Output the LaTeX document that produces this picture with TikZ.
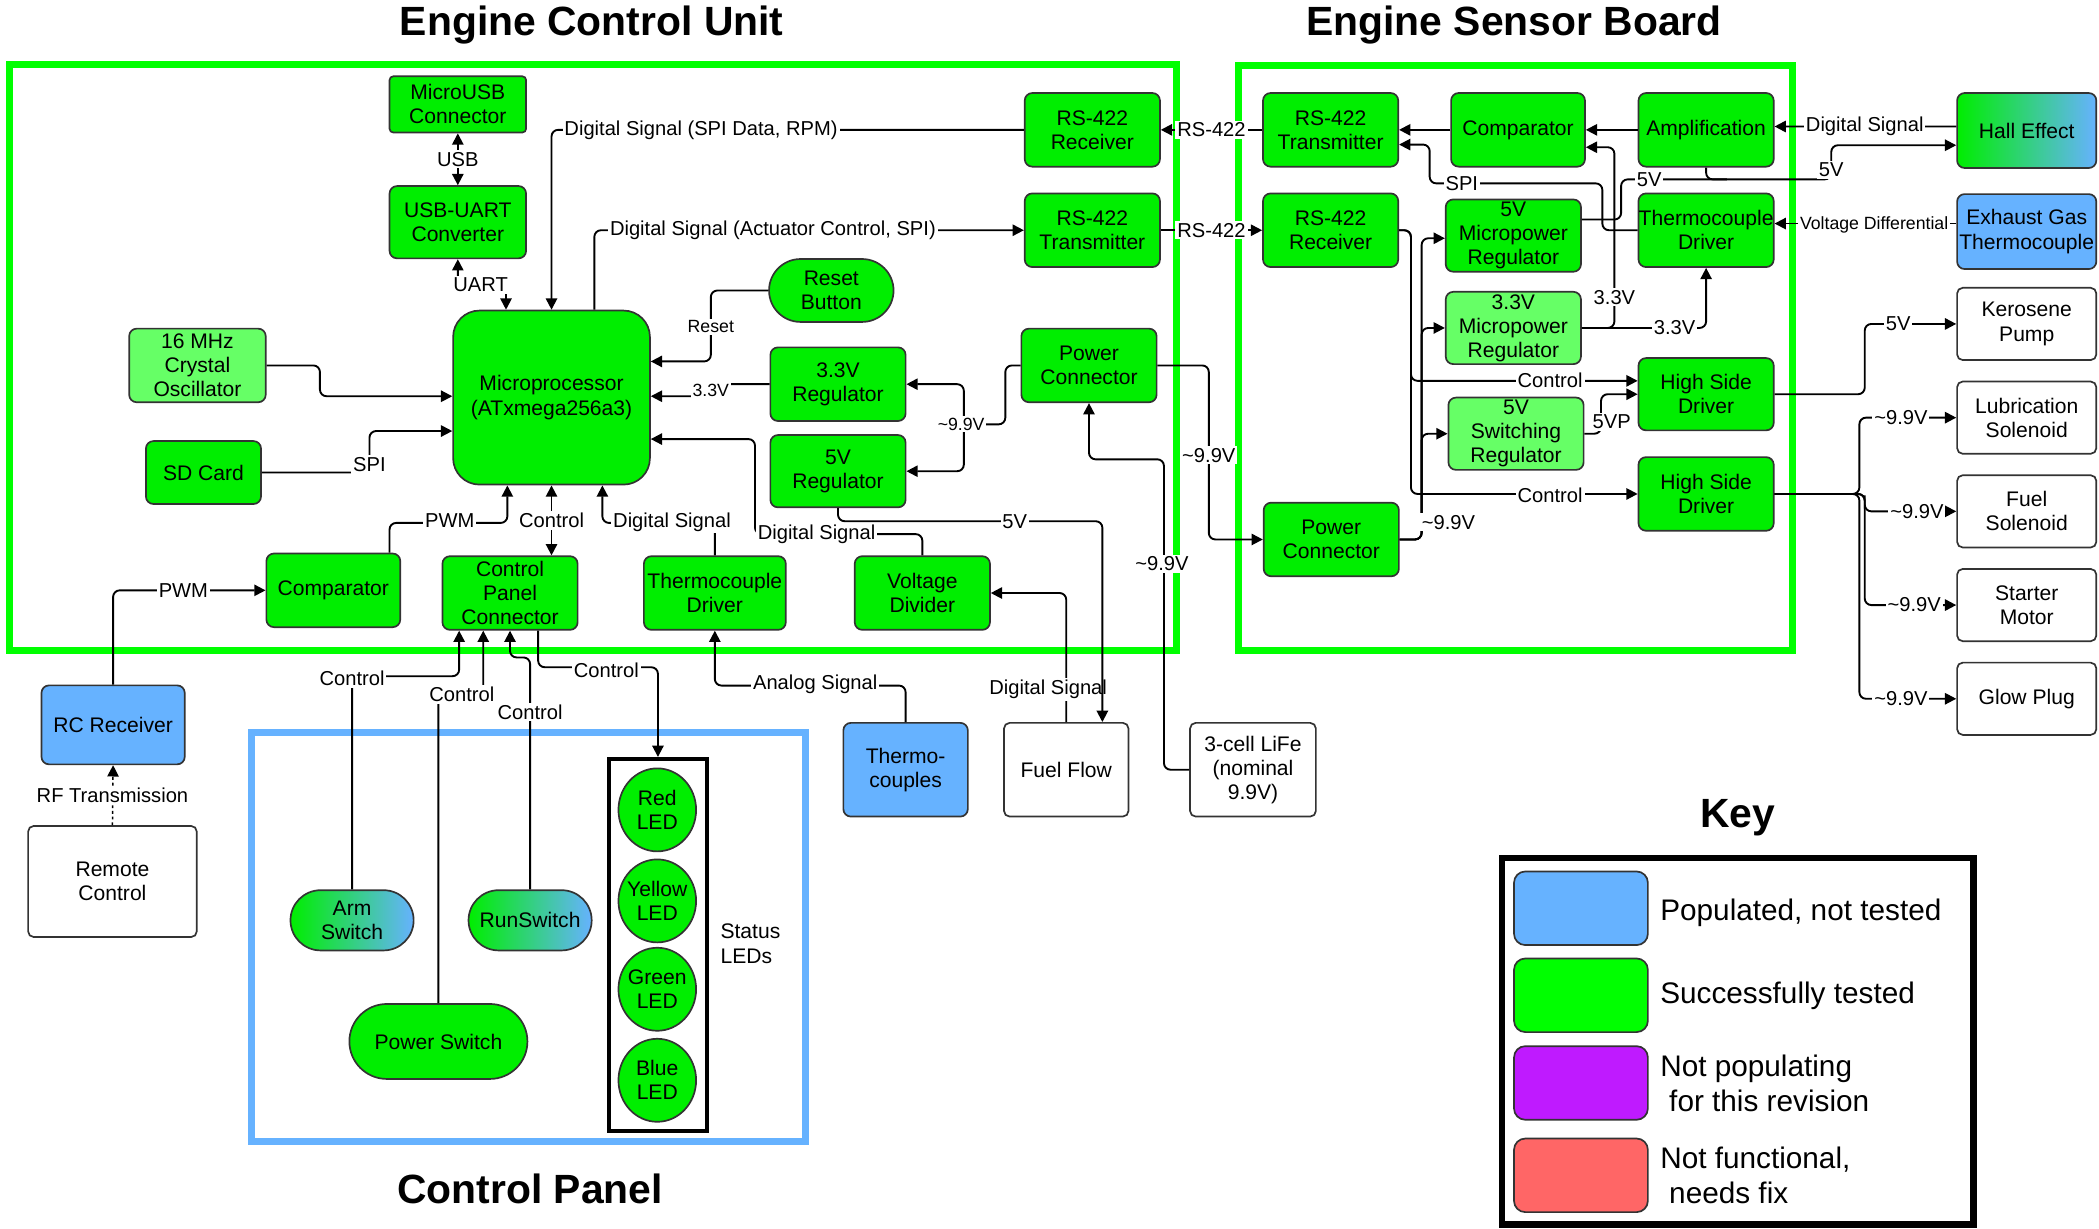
\documentclass[tikz,border=0pt]{standalone}
\usepackage{fontspec}
\setmainfont{Liberation Sans}
\usetikzlibrary{arrows.meta,calc,shapes.misc,shapes.geometric}
\definecolor{gfill}{HTML}{00EE00}
\definecolor{lgfill}{HTML}{66FF66}
\definecolor{bfill}{HTML}{66B2FF}
\definecolor{pfill}{HTML}{BF1AFF}
\definecolor{rfill}{HTML}{FF6666}
\definecolor{frameg}{HTML}{00FF00}
\definecolor{frameb}{HTML}{66B2FF}
\definecolor{bd}{HTML}{333333}
\newcommand{\nodefnt}{\fontsize{11.2}{12.8}\selectfont}
\newcommand{\lblfnt}{\fontsize{10.7}{12}\selectfont}
\newcommand{\smlfnt}{\fontsize{9.4}{11}\selectfont}
\newcommand{\ttlfnt}{\fontsize{21.7}{26}\selectfont\bfseries}
\newcommand{\keyfnt}{\fontsize{15.8}{18.5}\selectfont}
\begin{document}
\begin{tikzpicture}[x=0.025cm,y=-0.025cm,
  box/.style={draw=bd, line width=0.9pt, rounded corners=4pt, fill=gfill, align=center, font=\nodefnt, inner sep=0pt},
  lbox/.style={box, fill=lgfill},
  bbox/.style={box, fill=bfill},
  wbox/.style={box, fill=white, rounded corners=3pt},
  gbox/.style={box, left color=gfill, right color=bfill},
  pill/.style={shape=rounded rectangle, sharp corners},
  sz/.style 2 args={minimum width=#1*0.025cm, minimum height=#2*0.025cm},
  ln/.style={draw=black, line width=1pt, rounded corners=3.5pt},
  arr/.style={ln, -{Triangle[length=6pt,width=6pt]}},
  barr/.style={ln, {Triangle[length=6pt,width=6pt]}-{Triangle[length=6pt,width=6pt]}},
  lbl/.style={fill=white, inner sep=1pt, font=\lblfnt},
  slbl/.style={lbl, font=\smlfnt},
  frame/.style={draw=frameg, line width=3.6pt},
  ttl/.style={font=\ttlfnt, inner sep=0pt}
]
\fill[white] (0,0) rectangle (1568,918);
\useasboundingbox (0,0) rectangle (1568,918);

% frames
\draw[frame] (7,48) rectangle (879,486);
\draw[frame] (925,49) rectangle (1339,486);
\draw[draw=frameb, line width=3.6pt] (188,547) rectangle (602,853);

% titles
\node[ttl] (tecu) at (442,19) {Engine Control Unit};
\node[ttl] (tesb) at (1131,19) {Engine Sensor Board};
\node[ttl] (tcp) at (396,888) {Control Panel};
\node[ttl] (tkey) at (1298,611) {Key};

% ECU nodes
\node[box, sz={102}{42}, rounded corners=2pt] (usb) at (342,78) {MicroUSB\\Connector};
\node[box, sz={102}{54}] (uart) at (342,166) {USB-UART\\Converter};
\node[box, sz={147}{130}, rounded corners=14pt] (mcu) at (412,297) {Microprocessor\\(ATxmega256a3)};
\node[lbox, sz={102}{55}] (xtal) at (147.5,273) {16 MHz\\Crystal\\Oscillator};
\node[box, sz={86}{47}] (sd) at (152,353) {SD Card};
\node[box, sz={101}{55}] (erx) at (816,97) {RS-422\\Receiver};
\node[box, sz={101}{55}] (etx) at (816,172) {RS-422\\Transmitter};
\node[box, pill, sz={93}{47}] (rst) at (621,217) {Reset\\Button};
\node[box, sz={101}{55}] (r33) at (626,287) {3.3V\\Regulator};
\node[box, sz={101}{54}] (r5) at (626,352) {5V\\Regulator};
\node[box, sz={101}{55}] (epc) at (813.5,273) {Power\\Connector};
\node[box, sz={100}{55}] (ecmp) at (249,441) {Comparator};
\node[box, sz={101}{55}] (cpc) at (381,443) {Control\\Panel\\Connector};
\node[box, sz={106}{55}] (etd) at (534,443) {Thermocouple\\Driver};
\node[box, sz={101}{55}] (vd) at (689,443) {Voltage\\Divider};

% ESB nodes
\node[box, sz={101}{55}] (stx) at (994,97) {RS-422\\Transmitter};
\node[box, sz={101}{55}] (srx) at (994,172) {RS-422\\Receiver};
\node[box, sz={100}{55}] (scmp) at (1134,97) {Comparator};
\node[box, sz={101}{55}] (amp) at (1274.5,97) {Amplification};
\node[box, sz={101}{54}] (r5m) at (1130.5,176) {5V\\Micropower\\Regulator};
\node[box, sz={101}{55}] (std) at (1274.5,172) {Thermocouple\\Driver};
\node[lbox, sz={101}{54}] (r33m) at (1130.5,245) {3.3V\\Micropower\\Regulator};
\node[box, sz={101}{54}] (hsd1) at (1274.5,294.5) {High Side\\Driver};
\node[lbox, sz={101}{54}] (r5s) at (1132.5,324) {5V\\Switching\\Regulator};
\node[box, sz={101}{55}] (hsd2) at (1274.5,369) {High Side\\Driver};
\node[box, sz={101}{55}] (spc) at (994.5,403) {Power\\Connector};

% external right
\node[gbox, sz={104}{56}] (hall) at (1514,97.5) {Hall Effect};
\node[bbox, sz={104}{56}] (egt) at (1514,173) {Exhaust Gas\\Thermocouple};
\node[wbox, sz={104}{54}] (kp) at (1514,242) {Kerosene\\Pump};
\node[wbox, sz={104}{54}] (lub) at (1514,312) {Lubrication\\Solenoid};
\node[wbox, sz={104}{54}] (fs) at (1514,382) {Fuel\\Solenoid};
\node[wbox, sz={104}{54}] (sm) at (1514,452) {Starter\\Motor};
\node[wbox, sz={104}{54}] (gp) at (1514,522) {Glow Plug};

% bottom
\node[bbox, sz={107}{59}] (rcr) at (84.5,541.5) {RC Receiver};
\node[wbox, sz={126}{83}] (rmt) at (84,658.5) {Remote\\Control};
\node[bbox, sz={93}{70}] (thc) at (676.5,575) {Thermo-\\couples};
\node[wbox, sz={93}{70}] (ff) at (796.5,575) {Fuel Flow};
\node[wbox, sz={94}{70}] (life) at (936,575) {3-cell LiFe\\(nominal\\9.9V)};

% control panel
\node[gbox, pill, sz={92}{45}] (arm) at (263,687.5) {Arm\\Switch};
\node[gbox, pill, sz={92}{45}] (run) at (396,687.5) {RunSwitch};
\node[box, pill, sz={133}{56}] (pwr) at (327.5,778) {Power Switch};
\node[draw=black, line width=2.2pt, sz={73}{278}, inner sep=0pt] (ledbox) at (491.5,706) {};
\node[box, ellipse, sz={58}{62}] (led1) at (491,605) {};
\node[box, ellipse, sz={58}{62}] (led2) at (491,673) {};
\node[box, ellipse, sz={58}{62}] (led3) at (491,739) {};
\node[box, ellipse, sz={58}{62}] (led4) at (491,807) {};
\node[font=\nodefnt, align=center, inner sep=0pt] (led1t) at (led1) {Red\\LED};
\node[font=\nodefnt, align=center, inner sep=0pt] (led2t) at (led2) {Yellow\\LED};
\node[font=\nodefnt, align=center, inner sep=0pt] (led3t) at (led3) {Green\\LED};
\node[font=\nodefnt, align=center, inner sep=0pt] (led4t) at (led4) {Blue\\LED};
\node[font=\nodefnt, align=left, anchor=west, inner sep=0pt] (stat) at (538,705) {Status\\LEDs};

% key
\node[draw=black, line width=3.6pt, sz={352}{274}, inner sep=0pt] (keybox) at (1298,778) {};
\node[box, fill=bfill, rounded corners=6pt, sz={100}{55}] (k1) at (1181,678.5) {};
\node[box, fill=frameg, rounded corners=6pt, sz={100}{55}] (k2) at (1181,743.5) {};
\node[box, fill=pfill, rounded corners=6pt, sz={100}{55}] (k3) at (1181,809) {};
\node[box, fill=rfill, rounded corners=6pt, sz={100}{55}] (k4) at (1181,878) {};
\node[font=\keyfnt, anchor=west, inner sep=0pt] (k1t) at (1240,682) {Populated, not tested};
\node[font=\keyfnt, anchor=west, inner sep=0pt] (k2t) at (1240,744) {Successfully tested};
\node[font=\keyfnt, anchor=west, align=left, inner sep=0pt] (k3t) at (1240,809) {Not populating\\\hspace{0.3em}for this revision};
\node[font=\keyfnt, anchor=west, align=left, inner sep=0pt] (k4t) at (1240,878) {Not functional,\\\hspace{0.3em}needs fix};

% ECU connectors
\draw[barr] (usb) -- (uart);
\draw[barr] (uart.south) |- ($(mcu.north)+(-34,-20)$) -- ($(mcu.north)+(-34,0)$);
\draw[arr] (erx.west) -| (mcu.north);
\draw[arr] ($(mcu.north)+(32,0)$) |- (etx.west);
\draw[arr] (xtal.east) -| (239,285) |- ($(mcu.west)+(0,-1)$);
\draw[arr] (sd.east) -| (276,340) |- ($(mcu.west)+(0,25)$);
\draw[arr] (rst.west) -| (531,245) |- ($(mcu.east)+(0,-27)$);
\draw[arr] (r33.west) -- (531,287) -- (531,296) -- ($(mcu.east)+(0,-1)$);
\coordinate (j1) at (720,317);
\draw[ln] (epc.west) -| (751,300) |- (j1);
\draw[arr] (j1) |- (r33.east);
\draw[arr] (j1) |- (r5.east);
\draw[arr] (vd.north) |- (564,399) |- ($(mcu.east)+(0,31)$);
\draw[arr] (etd.north) |- ($(mcu.south)+(38,28)$) -- ($(mcu.south)+(38,0)$);
\draw[barr] (mcu.south) -- (mcu.south |- cpc.north);
\draw[arr] ($(ecmp.north)+(42,0)$) |- ($(mcu.south)+(-33,28)$) -- ($(mcu.south)+(-33,0)$);
\draw[arr] (rcr.north) |- (ecmp.west);
\draw[line width=0.8pt, dash pattern=on 1.5pt off 1.5pt, -{Triangle[length=6pt,width=6pt]}] (rmt.north) -- (rcr.south);
\draw[arr] (ff.north) |- (vd.east);
\draw[arr] (thc.north) |- ($(etd.south)+(0,41)$) -- (etd.south);
\draw[arr] (life.west) -| ($(epc.south)+(56,42)$) -| (epc.south);
\draw[arr] (epc.east) -| (903,340) |- (spc.west);

% control panel connectors
\draw[arr] (arm.north) |- ($(cpc.south)+(-38,34)$) -- ($(cpc.south)+(-38,0)$);
\draw[arr] (pwr.north) |- ($(cpc.south)+(-20,49)$) -- ($(cpc.south)+(-20,0)$);
\draw[arr] (run.north) |- ($(cpc.south)+(0,20)$) -- (cpc.south);
\draw[arr] ($(cpc.south)+(21,0)$) |- ($(ledbox.north)+(0,-67)$) -- (ledbox.north);

% ESB connectors
\draw[arr] (stx.west) -- (erx.east);
\draw[arr] (etx.east) -- (srx.west);
\draw[arr] (scmp.west) -- (stx.east);
\draw[arr] (amp.west) -- (scmp.east);
\draw[arr] ($(hall.west)+(0,-3)$) -- ($(amp.east)+(0,-2.5)$);
\draw[arr] ($(r5m.east)+(0,-12)$) -| (1211,150) |- (1368,134) |- ($(hall.west)+(0,11)$);
\draw[ln] (amp.south) |- (1290,134);
\draw[arr] (std.west) -| (1197,155) |- (1068,137) |- ($(stx.east)+(0,11)$);
\draw[arr] (r33m.east) -| (1206,200) |- ($(scmp.east)+(0,13)$);
\draw[arr] (r33m.east) -| (std.south);
\draw[arr] ($(egt.west)+(0,-6)$) -- ($(std.east)+(0,-5)$);
\draw[arr] (srx.east) -| (1054,230) |- ($(hsd1.west)+(0,-10)$);
\draw[arr] (srx.east) -| (1054,300) |- (hsd2.west);
\draw[arr] (spc.east) -| (1062,300) |- ($(r5m.west)+(0,2)$);
\draw[arr] (spc.east) -| (1062,300) |- (r33m.west);
\draw[arr] (spc.east) -| (1062,360) |- (r5s.west);
\draw[arr] (r5s.east) -| (1196,305) |- (hsd1.west);
\draw[arr] (hsd1.east) -| (1393,270) |- (kp.west);
\draw[arr] (hsd2.east) -| (1389,340) |- (lub.west);
\draw[arr] (hsd2.east) -| (1393,375) |- (fs.west);
\draw[arr] (hsd2.east) -| (1393,420) |- (sm.west);
\draw[arr] (hsd2.east) -| (1389,480) |- (gp.west);

% labels
\node[lbl] (lb1) at (342,119) {USB};
\node[lbl] (lb2) at (359,213) {UART};
\node[lbl, anchor=west] (lb3) at (420,97) {Digital Signal (SPI Data, RPM)};
\node[lbl, anchor=west] (lb4) at (454,172) {Digital Signal (Actuator Control, SPI)};
\node[lbl] (lb5) at (276,347) {SPI};
\node[slbl] (lb6) at (531,244) {Reset};
\node[slbl] (lb7) at (531,292) {3.3V};
\node[slbl] (lb8) at (718,317) {\textasciitilde9.9V};
\node[lbl] (lb9) at (610,399) {Digital Signal};
\node[lbl] (lb10) at (502,390) {Digital Signal};
\node[lbl] (lb11) at (412,389) {Control};
\node[lbl] (lb12) at (336,389) {PWM};
\node[lbl] (lb13) at (137,441) {PWM};
\node[lbl] (lb14) at (84,594) {RF Transmission};
\node[lbl] (lb16) at (783,515) {Digital Signal};
\node[lbl] (lb17) at (609,511) {Analog Signal};
\node[lbl] (lb18) at (868,421) {\textasciitilde9.9V};
\node[lbl] (lb19) at (903,340) {\textasciitilde9.9V};
\node[lbl] (lb20) at (263,507) {Control};
\node[lbl] (lb21) at (345,519) {Control};
\node[lbl] (lb22) at (396,532) {Control};
\node[lbl] (lb23) at (453,501) {Control};
\node[lbl] (lb24) at (905,97) {RS-422};
\node[lbl] (lb25) at (905,172) {RS-422};
\node[lbl] (lb26) at (1393,94) {Digital Signal};
\node[lbl] (lb27) at (1232,134) {5V};
\node[lbl] (lb28) at (1368,127) {5V};
\node[lbl] (lb29) at (1092,137) {SPI};
\node[lbl] (lb30) at (1206,222) {3.3V};
\node[lbl] (lb31) at (1251,245) {3.3V};
\node[slbl] (lb32) at (1400,168) {Voltage Differential};
\node[lbl] (lb33) at (1158,284) {Control};
\node[lbl] (lb34) at (1158,370) {Control};
\node[lbl] (lb35) at (1082,390) {\textasciitilde9.9V};
\node[lbl] (lb36) at (1204,315) {5VP};
\node[lbl] (lb37) at (1418,242) {5V};
\node[lbl] (lb38) at (1420,312) {\textasciitilde9.9V};
\node[lbl] (lb39) at (1432,382) {\textasciitilde9.9V};
\node[lbl] (lb40) at (1430,452) {\textasciitilde9.9V};
\node[lbl] (lb41) at (1420,522) {\textasciitilde9.9V};

% drawn over label
\draw[arr] (r5.south) |- ($(ff.north)+(27,-150)$) -- ($(ff.north)+(27,0)$);
\node[lbl] (lb42) at (758,390) {5V};
\end{tikzpicture}
\end{document}
